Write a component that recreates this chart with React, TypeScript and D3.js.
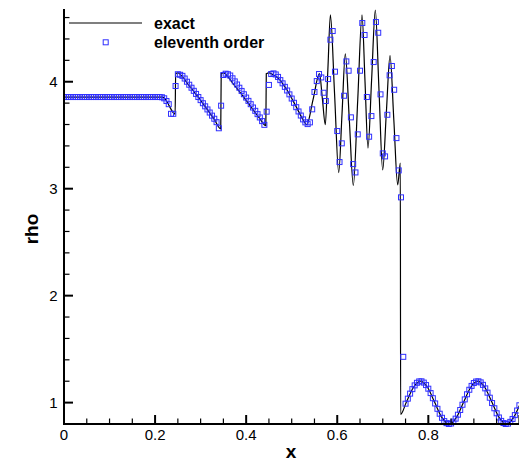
import React from 'react';
import * as d3 from 'd3';

const W = 519;
const H = 466;

const xTickValues = [0, 0.2, 0.4, 0.6, 0.8, 1.0];
const xTickLabels = ['0', '0.2', '0.4', '0.6', '0.8', ''];
const yTickValues = [1, 2, 3, 4];
const yTickLabels = ['1', '2', '3', '4'];
const xMinorStep = 0.05;
const yMinorStep = 0.2;

const seriesNames = ['exact', 'eleventh order'];

// grid spacing of the scheme (nodes 0..200)
const gridStep = 0.005;

// eleventh order scheme: rho at each grid node
const schemeRho = [
  3.857, 3.857, 3.857, 3.857, 3.857, 3.857, 3.857, 3.857, 3.857, 3.857,
  3.857, 3.857, 3.857, 3.857, 3.857, 3.857, 3.857, 3.857, 3.857, 3.857,
  3.857, 3.857, 3.857, 3.857, 3.857, 3.857, 3.857, 3.857, 3.857, 3.857,
  3.857, 3.857, 3.857, 3.857, 3.857, 3.857, 3.857, 3.857, 3.857, 3.857,
  3.857, 3.857, 3.857, 3.855, 3.845, 3.82, 3.79, 3.70, 3.70, 3.96,
  4.07, 4.065, 4.055, 4.03, 4.0, 3.972, 3.944, 3.915, 3.886, 3.857,
  3.828, 3.799, 3.77, 3.741, 3.712, 3.683, 3.654, 3.622, 3.565, 3.776,
  4.063, 4.075, 4.07, 4.058, 4.032, 4.003, 3.974, 3.944, 3.914, 3.883,
  3.852, 3.821, 3.79, 3.759, 3.728, 3.697, 3.666, 3.632, 3.597, 3.72,
  3.97, 4.072, 4.078, 4.068, 4.045, 4.015, 3.985, 3.952, 3.918, 3.882,
  3.843, 3.803, 3.762, 3.722, 3.684, 3.648, 3.62, 3.604, 3.62, 3.742,
  3.904, 4.006, 4.072, 4.04, 3.897, 3.82, 4.025, 4.393, 4.474, 4.094,
  3.539, 3.249, 3.424, 3.869, 4.19, 4.103, 3.667, 3.23, 3.152, 3.508,
  4.103, 4.549, 4.437, 3.857, 3.486, 3.679, 4.184, 4.558, 4.458, 3.882,
  3.33, 3.302, 3.691, 4.06, 4.147, 3.925, 3.473, 3.171, 2.919, 1.428,
  0.99, 1.037, 1.084, 1.126, 1.161, 1.185, 1.198, 1.199, 1.187, 1.164,
  1.13, 1.089, 1.041, 0.992, 0.942, 0.896, 0.858, 0.827, 0.808, 0.8,
  0.805, 0.822, 0.85, 0.887, 0.931, 0.98, 1.03, 1.078, 1.12, 1.156,
  1.183, 1.197, 1.199, 1.189, 1.166, 1.133, 1.093, 1.046, 0.996, 0.947,
  0.9, 0.861, 0.829, 0.809, 0.8, 0.804, 0.82, 0.847, 0.883, 0.926,
  0.975,
];

// exact solution
const exactX = [
  0, 0.215, 0.221, 0.2265, 0.244, 0.2452, 0.2505, 0.256, 0.27, 0.30, 0.33, 0.3442,
  0.3452, 0.3505, 0.356, 0.37, 0.40, 0.43, 0.4432,
  0.4442, 0.4505, 0.457, 0.47, 0.49, 0.51, 0.525, 0.533,
  0.547, 0.561, 0.5674, 0.5738, 0.5794, 0.585, 0.5941, 0.6032, 0.6105, 0.6177,
  0.6265, 0.6353, 0.645, 0.6544, 0.661, 0.6675, 0.6755, 0.6836, 0.6917, 0.6998,
  0.7078, 0.7159, 0.7243, 0.7327, 0.7385, 0.7392,
  0.7514, 0.7671, 0.7828, 0.7985, 0.8142, 0.83, 0.8457, 0.8614, 0.8771, 0.8928,
  0.9085, 0.9242, 0.94, 0.9557, 0.9714, 0.9871, 1.0028,
];
const exactRho = [
  3.857, 3.857, 3.846, 3.81, 3.698, 4.078, 4.083, 4.066, 3.99, 3.826, 3.648, 3.56,
  4.078, 4.083, 4.066, 3.99, 3.826, 3.655, 3.59,
  4.075, 4.082, 4.07, 4.035, 3.92, 3.765, 3.645, 3.598,
  3.836, 4.075, 3.84, 3.598, 4.11, 4.625, 3.89, 3.15, 3.70, 4.26,
  3.645, 3.03, 3.83, 4.625, 4.0, 3.38, 4.02, 4.67, 3.92, 3.175,
  3.71, 4.245, 3.64, 3.035, 3.24, 0.89,
  1.0, 1.141, 1.2, 1.141, 1.0, 0.859, 0.8, 0.859, 1.0, 1.141,
  1.2, 1.141, 1.0, 0.859, 0.8, 0.859, 1.0,
];

const FONT = '"Liberation Sans", Arial, Helvetica, sans-serif';
const BLUE = '#3030ff';

export default function App() {
  const x = d3.scaleLinear().domain([0, 1]).range([64, 519.4]);
  const y = d3.scaleLinear().domain([0.8, 4.68]).range([424, 9]);

  const exactPts: [number, number][] = exactX.map((v, i) => [v, exactRho[i]]);
  const line = d3
    .line<[number, number]>()
    .x((d) => x(d[0]))
    .y((d) => y(d[1]))
    .curve(d3.curveMonotoneX);

  const schemePts = schemeRho.map((r, i) => ({ xv: i * gridStep, r }));

  const xMinor = d3.range(0, 1.0001, xMinorStep).filter(
    (v) => !xTickValues.some((t) => Math.abs(t - v) < 1e-6)
  );
  const yMinor = d3.range(1.0, 4.6001, yMinorStep).filter(
    (v) => !yTickValues.some((t) => Math.abs(t - v) < 1e-6)
  );

  const x0 = x(0);
  const yBase = y(0.8);
  const yTop = y(4.68);
  const ms = 5;

  return (
    <svg
      width={W}
      height={H}
      style={{ position: 'absolute', left: 0, top: 0, background: '#fff' }}
      fontFamily={FONT}
    >
      <rect x={0} y={0} width={W} height={H} fill="#fff" />
      <defs>
        <clipPath id="plotclip">
          <rect x={x0} y={0} width={W - x0} height={yBase + 4} />
        </clipPath>
      </defs>

      <g clipPath="url(#plotclip)">
        <path d={line(exactPts) || ''} fill="none" stroke="#000" strokeWidth={1.2} />
        {schemePts.map((p, i) => (
          <rect
            key={i}
            x={x(p.xv) - ms / 2}
            y={y(p.r) - ms / 2}
            width={ms}
            height={ms}
            fill="none"
            stroke={BLUE}
            strokeWidth={1}
          />
        ))}
      </g>

      {/* axes */}
      <line x1={x0} x2={W} y1={yBase} y2={yBase} stroke="#000" strokeWidth={2} />
      <line x1={x0} x2={x0} y1={yTop} y2={yBase + 1} stroke="#000" strokeWidth={2} />

      {xTickValues.map((v, i) => (
        <g key={'xt' + i}>
          <line x1={x(v)} x2={x(v)} y1={yBase} y2={yBase - 9} stroke="#000" strokeWidth={2} />
          <text x={x(v)} y={440} fontSize={15} textAnchor="middle" fill="#000">
            {xTickLabels[i]}
          </text>
        </g>
      ))}
      {xMinor.map((v, i) => (
        <line key={'xm' + i} x1={x(v)} x2={x(v)} y1={yBase} y2={yBase - 5.5} stroke="#000" strokeWidth={1.2} />
      ))}

      {yTickValues.map((v, i) => (
        <g key={'yt' + i}>
          <line x1={x0} x2={x0 + 9} y1={y(v)} y2={y(v)} stroke="#000" strokeWidth={2} />
          <text x={57.5} y={y(v) + 5.5} fontSize={15} textAnchor="end" fill="#000">
            {yTickLabels[i]}
          </text>
        </g>
      ))}
      {yMinor.map((v, i) => (
        <line key={'ym' + i} x1={x0} x2={x0 + 5.5} y1={y(v)} y2={y(v)} stroke="#000" strokeWidth={1.2} />
      ))}

      {/* axis titles */}
      <text x={291} y={458} fontSize={19} fontWeight="bold" textAnchor="middle" fill="#000">
        x
      </text>
      <text
        transform={`translate(37.5, 229) rotate(-90)`}
        fontSize={19}
        fontWeight="bold"
        textAnchor="middle"
        fill="#000"
      >
        rho
      </text>

      {/* legend */}
      <line x1={69} x2={142} y1={23} y2={23} stroke="#000" strokeWidth={1.2} />
      <text x={154} y={28.5} fontSize={16} fontWeight="bold" fill="#000">
        {seriesNames[0]}
      </text>
      <rect x={105.7 - ms / 2} y={42.3 - ms / 2} width={ms} height={ms} fill="none" stroke={BLUE} strokeWidth={1} />
      <text x={154} y={47.5} fontSize={16} fontWeight="bold" fill="#000">
        {seriesNames[1]}
      </text>
    </svg>
  );
}
